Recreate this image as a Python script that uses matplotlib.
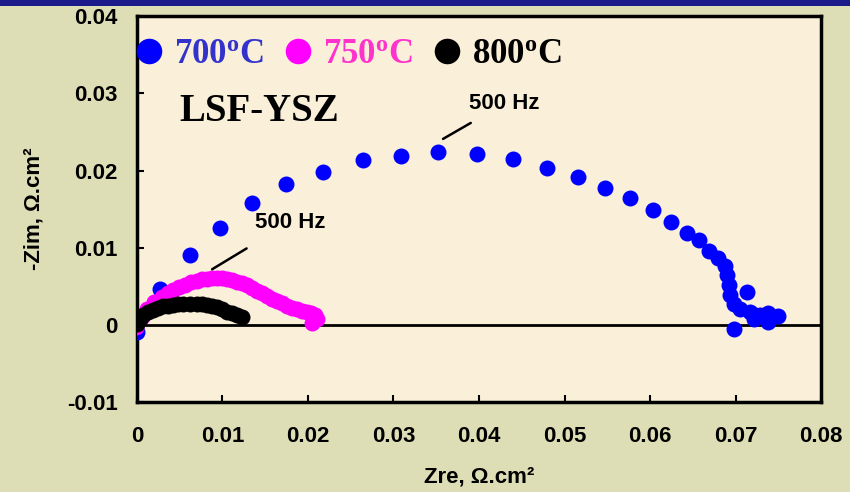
import matplotlib
matplotlib.use("Agg")
import matplotlib.pyplot as plt
from matplotlib.patches import Rectangle

plt.rcParams['mathtext.fontset'] = 'custom'
plt.rcParams['mathtext.rm'] = 'Liberation Serif:bold'
plt.rcParams['mathtext.it'] = 'Liberation Serif:bold'
plt.rcParams['mathtext.bf'] = 'Liberation Serif:bold'

# 700 C series
x700 = [0.0000, 0.0027, 0.0062, 0.0097, 0.0135, 0.0174, 0.0218, 0.0264, 0.0309, 0.0352,
        0.0398, 0.0440, 0.0480, 0.0516, 0.0547, 0.0577, 0.0604, 0.0625, 0.0643, 0.0657,
        0.0669, 0.0680, 0.0688, 0.0690, 0.0692, 0.0694, 0.0698, 0.0705, 0.0713, 0.0717,
        0.0721, 0.0723, 0.0729, 0.0738, 0.0738, 0.0750, 0.0698]
y700 = [-0.0009, 0.0046, 0.0090, 0.0125, 0.0158, 0.0182, 0.0198, 0.0214, 0.0219, 0.0224,
        0.0222, 0.0215, 0.0203, 0.0192, 0.0177, 0.0164, 0.0149, 0.0133, 0.0119, 0.0110,
        0.0096, 0.0086, 0.0076, 0.0065, 0.0052, 0.0039, 0.0027, 0.0021, 0.0043, 0.0017,
        0.0007, 0.0013, 0.0013, 0.0015, 0.0004, 0.0012, -0.0006]

# 750 C series
x750 = [-0.0001, 0.0006, 0.0012, 0.0020, 0.0029, 0.0036, 0.0042, 0.0049, 0.0056, 0.0063,
        0.0070, 0.0076, 0.0082, 0.0088, 0.0094, 0.0100, 0.0105, 0.0111, 0.0117, 0.0123,
        0.0129, 0.0135, 0.0140, 0.0146, 0.0152, 0.0158, 0.0164, 0.0170, 0.0175, 0.0181,
        0.0187, 0.0193, 0.0199, 0.0204, 0.0208, 0.0211, 0.0205]
y750 = [-0.0003, 0.0010, 0.0021, 0.0029, 0.0036, 0.0041, 0.0045, 0.0049, 0.0052, 0.0055,
        0.0057, 0.0059, 0.0060, 0.0061, 0.0061, 0.0061, 0.0060, 0.0058, 0.0056, 0.0054,
        0.0051, 0.0048, 0.0044, 0.0041, 0.0038, 0.0034, 0.0031, 0.0028, 0.0025, 0.0022,
        0.0020, 0.0018, 0.0017, 0.0015, 0.0013, 0.0007, 0.0002]

# 800 C series
x800 = [0.0000, 0.0004, 0.0007, 0.0013, 0.0019, 0.0025, 0.0030, 0.0036, 0.0042, 0.0048,
        0.0054, 0.0062, 0.0070, 0.0076, 0.0082, 0.0088, 0.0094, 0.0100, 0.0105, 0.0111,
        0.0117, 0.0123]
y800 = [0.0001, 0.0008, 0.0013, 0.0016, 0.0019, 0.0022, 0.0024, 0.0025, 0.0026, 0.0027,
        0.0027, 0.0027, 0.0027, 0.0027, 0.0026, 0.0025, 0.0023, 0.0020, 0.0017, 0.0015,
        0.0013, 0.0010]

series_labels = [r'700$^{\rm o}$C', r'750$^{\rm o}$C', r'800$^{\rm o}$C']
label_colors = ['#3333CC', '#FF33CC', '#000000']
marker_colors = ['#0000FF', '#FF00FF', '#000000']

xticks = [0, 0.01, 0.02, 0.03, 0.04, 0.05, 0.06, 0.07, 0.08]
xticklabels = ['0', '0.01', '0.02', '0.03', '0.04', '0.05', '0.06', '0.07', '0.08']
yticks = [-0.01, 0, 0.01, 0.02, 0.03, 0.04]
yticklabels = ['-0.01', '0', '0.01', '0.02', '0.03', '0.04']

fig = plt.figure(figsize=(8.5, 4.92), dpi=100)
fig.patch.set_facecolor('#DEDEB6')
fig.patches.append(Rectangle((0, 0.988), 1, 0.012, transform=fig.transFigure,
                             facecolor='#1A1A8A', edgecolor='none', zorder=0))
ax = fig.add_axes([0.161, 0.183, 0.805, 0.784])
ax.set_facecolor('#FAF0DA')

ax.axhline(0, color='black', lw=2, zorder=1)

h = []
for xs, ys, c, lab in zip([x700, x750, x800], [y700, y750, y800], marker_colors, series_labels):
    line, = ax.plot(xs, ys, 'o', color=c, markersize=11.5, markeredgewidth=0, label=lab, zorder=3)
    h.append(line)

ax.set_xlim(0, 0.08)
ax.set_ylim(-0.01, 0.04)
ax.set_xticks(xticks)
ax.set_xticklabels(xticklabels)
ax.set_yticks(yticks)
ax.set_yticklabels(yticklabels)
for lab in ax.get_xticklabels() + ax.get_yticklabels():
    lab.set_fontfamily('Liberation Sans')
    lab.set_fontweight('bold')
    lab.set_fontsize(16)
ax.tick_params(axis='both', direction='in', length=5, width=1.5, top=False, right=False)
ax.tick_params(axis='x', pad=17)
ax.tick_params(axis='y', pad=14)
for s in ax.spines.values():
    s.set_linewidth(2.5)
    s.set_color('black')

ax.set_xlabel('Zre, Ω.cm²', fontfamily='Liberation Sans', fontweight='bold', fontsize=16, labelpad=14)
ax.set_ylabel('-Zim, Ω.cm²', fontfamily='Liberation Sans', fontweight='bold', fontsize=16, labelpad=16)

leg = ax.legend(handles=h, loc='upper left', bbox_to_anchor=(-0.045, 1.025), ncol=3, frameon=False,
                markerscale=1.6, handlelength=0.7, handletextpad=0.35, columnspacing=0.65,
                prop={'family': 'Liberation Serif', 'weight': 'bold', 'size': 25})
for t, c in zip(leg.get_texts(), label_colors):
    t.set_color(c)

ax.text(0.0050, 0.0276, 'LSF-YSZ', fontfamily='Liberation Serif', fontweight='bold',
        fontsize=28, ha='left', va='center')

ax.annotate('500 Hz', xy=(0.0358, 0.0241), xytext=(0.0430, 0.0287),
            fontfamily='Liberation Sans', fontweight='bold', fontsize=16, ha='center', va='center',
            arrowprops=dict(arrowstyle='-', color='black', lw=1.8, shrinkA=9, shrinkB=0))
ax.annotate('500 Hz', xy=(0.0088, 0.0072), xytext=(0.0179, 0.0133),
            fontfamily='Liberation Sans', fontweight='bold', fontsize=16, ha='center', va='center',
            arrowprops=dict(arrowstyle='-', color='black', lw=1.8, shrinkA=18, shrinkB=0))

fig.savefig('out.png', dpi=100, facecolor=fig.get_facecolor())
